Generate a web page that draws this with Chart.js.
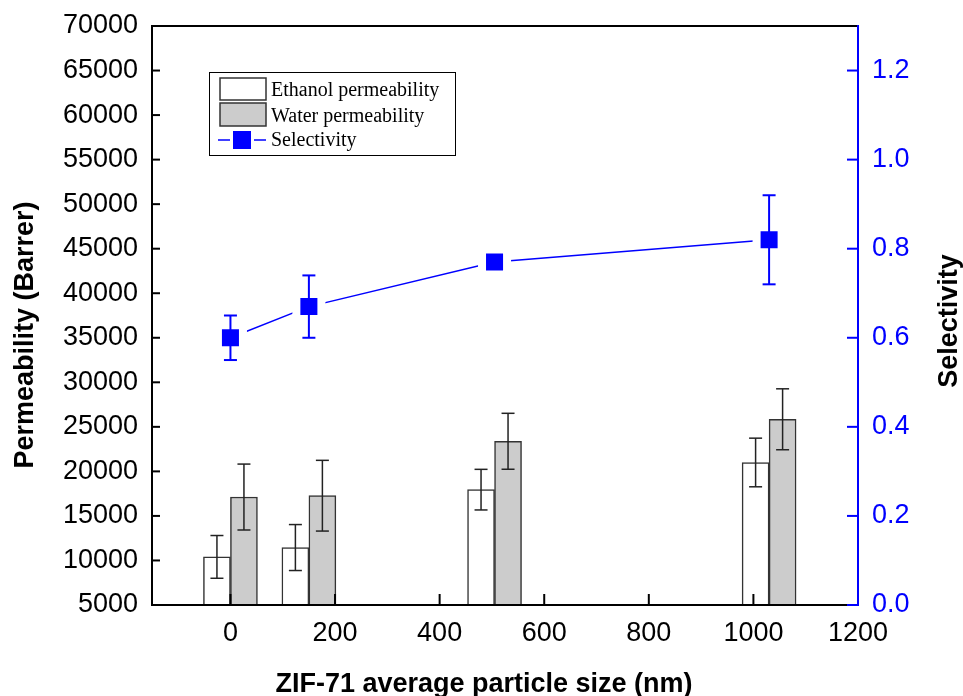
<!DOCTYPE html>
<html>
<head>
<meta charset="utf-8">
<script src="https://cdn.jsdelivr.net/npm/chart.js@4.4.1/dist/chart.umd.min.js"></script>
<style>
    html, body { margin: 0; padding: 0; background: #fff; }
</style>
</head>
<body>
<canvas id="chart" width="963" height="696"></canvas>
<script>
    const particleSizes = [0, 150, 505, 1030];
    const ethanolPerm = [10400, 11450, 17950, 21000];
    const ethanolErr = [2400, 2580, 2280, 2730];
    const waterPerm = [17120, 17270, 23380, 25850];
    const waterErr = [3700, 3970, 3140, 3420];
    const selectivity = [0.60, 0.67, 0.77, 0.82];
    const selectivityErr = [0.05, 0.07, 0.01, 0.10];

    const xTicks = [0, 200, 400, 600, 800, 1000, 1200];
    const permTicks = [5000, 10000, 15000, 20000, 25000, 30000, 35000, 40000, 45000, 50000, 55000, 60000, 65000, 70000];
    const selTicks = [0, 0.2, 0.4, 0.6, 0.8, 1.0, 1.2];

    const BLUE = '#0000ff';
    const TICK_FONT = { family: 'Liberation Sans', size: 27 };

    function points(ys) {
        return particleSizes.map((x, i) => ({ x, y: ys[i] }));
    }

    function line(ctx, x1, y1, x2, y2) {
        ctx.beginPath();
        ctx.moveTo(x1, y1);
        ctx.lineTo(x2, y2);
        ctx.stroke();
    }

    function errorBar(ctx, x, yTop, yBot, cap) {
        line(ctx, x, yTop, x, yBot);
        line(ctx, x - cap, yTop, x + cap, yTop);
        line(ctx, x - cap, yBot, x + cap, yBot);
    }

    // vertical axes: keep the plot edge where the reference has it
    function fitVertical(width) {
        return (s) => {
            s.width = width;
            s.paddingTop = 0;
            s.paddingBottom = 0;
        };
    }

    const errorBars = {
        id: 'errorBars',
        afterDatasetsDraw(chart) {
            const { ctx, scales } = chart;
            const errs = [ethanolErr, waterErr, selectivityErr];
            ctx.save();
            chart.data.datasets.forEach((ds, di) => {
                const meta = chart.getDatasetMeta(di);
                const yScale = scales[meta.yAxisID];
                ctx.strokeStyle = di === 2 ? BLUE : '#222';
                ctx.lineWidth = di === 2 ? 2 : 1.5;
                meta.data.forEach((el, i) => {
                    const v = ds.data[i].y;
                    const e = errs[di][i];
                    errorBar(ctx, el.x, yScale.getPixelForValue(v + e), yScale.getPixelForValue(v - e), 6.5);
                });
            });
            ctx.restore();
        }
    };

    const frame = {
        id: 'frame',
        afterDatasetsDraw(chart) {
            const { ctx, chartArea: a, scales } = chart;
            ctx.save();
            ctx.lineWidth = 2;
            ctx.strokeStyle = '#000';
            line(ctx, a.left, a.top, a.right, a.top);
            line(ctx, a.left, a.top - 1, a.left, a.bottom + 1);
            line(ctx, a.left, a.bottom, a.right, a.bottom);
            xTicks.forEach((v) => {
                const x = scales.x.getPixelForValue(v);
                line(ctx, x, a.bottom, x, a.bottom - 11);
            });
            permTicks.forEach((v) => {
                const y = scales.y.getPixelForValue(v);
                line(ctx, a.left, y, a.left + 8, y);
            });
            ctx.strokeStyle = BLUE;
            line(ctx, a.right, a.top - 1, a.right, a.bottom + 1);
            selTicks.forEach((v) => {
                const y = scales.y1.getPixelForValue(v);
                line(ctx, a.right, y, a.right - 11, y);
            });
            ctx.restore();
        }
    };

    const titlesAndLegend = {
        id: 'titlesAndLegend',
        afterDraw(chart) {
            const { ctx } = chart;
            ctx.save();
            ctx.fillStyle = '#000';
            ctx.font = 'bold 27px "Liberation Sans"';
            ctx.textAlign = 'center';
            ctx.textBaseline = 'alphabetic';
            ctx.fillText('ZIF-71 average particle size (nm)', 484, 692);

            ctx.save();
            ctx.translate(33, 335);
            ctx.rotate(-Math.PI / 2);
            ctx.fillText('Permeability (Barrer)', 0, 0);
            ctx.restore();

            ctx.save();
            ctx.translate(957, 321);
            ctx.rotate(-Math.PI / 2);
            ctx.fillText('Selectivity', 0, 0);
            ctx.restore();

            // legend box
            ctx.lineWidth = 1;
            ctx.strokeStyle = '#000';
            ctx.strokeRect(209.5, 72.5, 246, 83);

            ctx.lineWidth = 1.5;
            ctx.strokeStyle = '#333';
            ctx.fillStyle = '#fff';
            ctx.fillRect(220, 78, 46, 22);
            ctx.strokeRect(220, 78, 46, 22);
            ctx.fillStyle = '#cccccc';
            ctx.fillRect(220, 103, 46, 23);
            ctx.strokeRect(220, 103, 46, 23);

            ctx.strokeStyle = BLUE;
            ctx.lineWidth = 1.5;
            line(ctx, 218, 140, 230, 140);
            line(ctx, 254, 140, 266, 140);
            ctx.fillStyle = BLUE;
            ctx.fillRect(233, 131, 18, 18);

            ctx.fillStyle = '#000';
            ctx.font = '20px "Liberation Serif"';
            ctx.textAlign = 'left';
            ctx.fillText('Ethanol permeability', 271, 96);
            ctx.fillText('Water permeability', 271, 121.5);
            ctx.fillText('Selectivity', 271, 146);
            ctx.restore();
        }
    };

    new Chart(document.getElementById('chart'), {
        type: 'bar',
        data: {
            datasets: [
                {
                    label: 'Ethanol permeability',
                    data: points(ethanolPerm),
                    backgroundColor: '#ffffff',
                    borderColor: '#333',
                    borderWidth: 1.5,
                    barThickness: 27,
                    yAxisID: 'y'
                },
                {
                    label: 'Water permeability',
                    data: points(waterPerm),
                    backgroundColor: '#cccccc',
                    borderColor: '#333',
                    borderWidth: 1.5,
                    barThickness: 27,
                    yAxisID: 'y'
                },
                {
                    type: 'line',
                    label: 'Selectivity',
                    data: points(selectivity),
                    borderColor: BLUE,
                    borderWidth: 1.5,
                    pointStyle: 'rect',
                    pointRadius: 17.7,
                    pointBorderWidth: 8,
                    pointBorderColor: '#ffffff',
                    pointBackgroundColor: BLUE,
                    yAxisID: 'y1'
                }
            ]
        },
        options: {
            responsive: false,
            animation: false,
            layout: { padding: { top: 26, left: 0, right: 0, bottom: 0 } },
            plugins: { legend: { display: false }, tooltip: { enabled: false } },
            scales: {
                x: {
                    type: 'linear',
                    min: -150,
                    max: 1200,
                    offset: false,
                    grid: { display: false, drawTicks: false },
                    border: { display: false },
                    afterBuildTicks: (s) => { s.ticks = xTicks.map((value) => ({ value })); },
                    afterFit: (s) => { s.height = 91; s.paddingLeft = 0; s.paddingRight = 0; },
                    ticks: { color: '#000', font: TICK_FONT, padding: 12, maxRotation: 0, callback: (v) => String(v) }
                },
                y: {
                    position: 'left',
                    min: 5000,
                    max: 70000,
                    grid: { display: false, drawTicks: false },
                    border: { display: false },
                    afterBuildTicks: (s) => { s.ticks = permTicks.map((value) => ({ value })); },
                    afterFit: fitVertical(152),
                    ticks: { color: '#000', font: TICK_FONT, padding: 14, callback: (v) => String(v) }
                },
                y1: {
                    position: 'right',
                    min: 0,
                    max: 1.3,
                    grid: { display: false, drawTicks: false },
                    border: { display: false },
                    afterBuildTicks: (s) => { s.ticks = selTicks.map((value) => ({ value })); },
                    afterFit: fitVertical(105),
                    ticks: { color: BLUE, font: TICK_FONT, padding: 14, callback: (v) => v.toFixed(1) }
                }
            }
        },
        plugins: [errorBars, frame, titlesAndLegend]
    });
</script>
</body>
</html>
